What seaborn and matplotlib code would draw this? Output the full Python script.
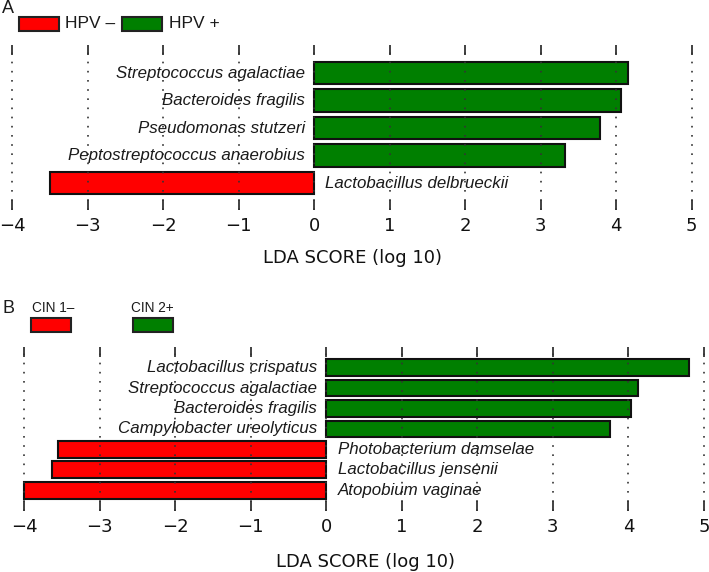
import matplotlib
matplotlib.use("Agg")
import matplotlib.pyplot as plt
from matplotlib.patches import Rectangle
import seaborn as sns
import pandas as pd

# ---------------- data ----------------
a_species = ["Streptococcus agalactiae", "Bacteroides fragilis", "Pseudomonas stutzeri",
             "Peptostreptococcus anaerobius", "Lactobacillus delbrueckii"]
a_scores = [4.16, 4.07, 3.79, 3.32, -3.50]
a_groups = ["HPV +", "HPV +", "HPV +", "HPV +", "HPV \u2013"]
a_legend = ["HPV \u2013", "HPV +"]

b_species = ["Lactobacillus crispatus", "Streptococcus agalactiae", "Bacteroides fragilis",
             "Campylobacter ureolyticus", "Photobacterium damselae", "Lactobacillus jensenii",
             "Atopobium vaginae"]
b_scores = [4.80, 4.13, 4.04, 3.75, -3.55, -3.63, -4.00]
b_groups = ["CIN 2+", "CIN 2+", "CIN 2+", "CIN 2+", "CIN 1\u2013", "CIN 1\u2013", "CIN 1\u2013"]
b_legend = ["CIN 1\u2013", "CIN 2+"]

xticks = [-4, -3, -2, -1, 0, 1, 2, 3, 4, 5]
neg_color = "#ff0000"
pos_color = "#007f00"

sns.set_style("white")
plt.rcParams["font.family"] = ["DejaVu Sans"]

W, H = 709, 572
fig = plt.figure(figsize=(W / 100, H / 100), dpi=100)


def fx(x):
    return x / W


def fy(y):
    return 1 - y / H


def panel(rect, species, scores, groups, legend_names, xlim, ylim, label_x, label_y):
    ax = fig.add_axes(rect)
    df = pd.DataFrame({"species": species, "score": scores, "group": groups})
    pal = {legend_names[0]: neg_color, legend_names[1]: pos_color}
    sns.barplot(data=df, x="score", y="species", hue="group", order=species,
                palette=pal, saturation=1, dodge=False, orient="h", width=0.82,
                edgecolor="#111111", linewidth=1.5, legend=False, ax=ax, zorder=2)
    ax.set_xlim(*xlim)
    ax.set_ylim(*ylim)
    ax.set_xticks(xticks)
    ax.set_xticklabels([("\u2212%d" % -t) if t < 0 else str(t) for t in xticks],
                       fontsize=13, color="#111111")
    ax.set_yticks([])
    ax.set_ylabel("")
    ax.set_xlabel("LDA SCORE (log 10)", fontsize=13, color="#111111")
    ax.xaxis.set_label_coords(label_x, label_y)
    for s in ax.spines.values():
        s.set_visible(False)
    ax.tick_params(axis="x", which="both", direction="in", length=7.2, width=1.3,
                   color="#333333", top=True, bottom=True, pad=5)
    ax.set_axisbelow(False)
    ax.grid(axis="x", linestyle=(0, (1, 4.5)), color="#333333", linewidth=1.2, zorder=3)
    for i, (sp, sc) in enumerate(zip(species, scores)):
        if sc >= 0:
            ax.text(-0.12, i, sp, ha="right", va="center", style="italic",
                    family=["Liberation Sans"], fontsize=12.2, color="#1a1a1a")
        else:
            ax.text(0.15, i, sp, ha="left", va="center", style="italic",
                    family=["Liberation Sans"], fontsize=12.2, color="#1a1a1a")
    return ax


# Panel A
axA = panel([0, fy(210), 1, (210 - 45) / H], a_species, a_scores, a_groups, a_legend,
            (-4.159, 5.229), (4.98, -1.02), 0.497, -0.236)
# Panel B
axB = panel([0, fy(510.7), 1, (510.7 - 346.7) / H], b_species, b_scores, b_groups, b_legend,
            (-4.318, 5.066), (7.0, -1.02), 0.515, -0.256)

# Panel letters
fig.text(fx(2), fy(8.5), "A", fontsize=13, va="center", ha="left",
         family=["Liberation Sans"], color="#1a1a1a")
fig.text(fx(2.5), fy(308.5), "B", fontsize=13, va="center", ha="left",
         family=["Liberation Sans"], color="#1a1a1a")

# Legend A (patch then text)
for (x0, x1, tx, name, col) in [(19, 59, 65, a_legend[0], neg_color),
                                (122, 162, 169, a_legend[1], pos_color)]:
    fig.patches.append(Rectangle((fx(x0), fy(31)), (x1 - x0) / W, 14 / H,
                                 transform=fig.transFigure, facecolor=col,
                                 edgecolor="#222222", linewidth=1.5))
    fig.text(fx(tx), fy(24), name, fontsize=12.5, va="center", ha="left",
             family=["Liberation Sans"], color="#1a1a1a")

# Legend B (text above patch)
for (x0, x1, tx, name, col) in [(31, 71, 31.5, b_legend[0], neg_color),
                                (133, 173, 131, b_legend[1], pos_color)]:
    fig.patches.append(Rectangle((fx(x0), fy(332)), (x1 - x0) / W, 14 / H,
                                 transform=fig.transFigure, facecolor=col,
                                 edgecolor="#222222", linewidth=1.5))
    fig.text(fx(tx), fy(308), name, fontsize=9.8, va="center", ha="left",
             family=["Liberation Sans"], color="#1a1a1a")

fig.savefig("out.png", dpi=100)
